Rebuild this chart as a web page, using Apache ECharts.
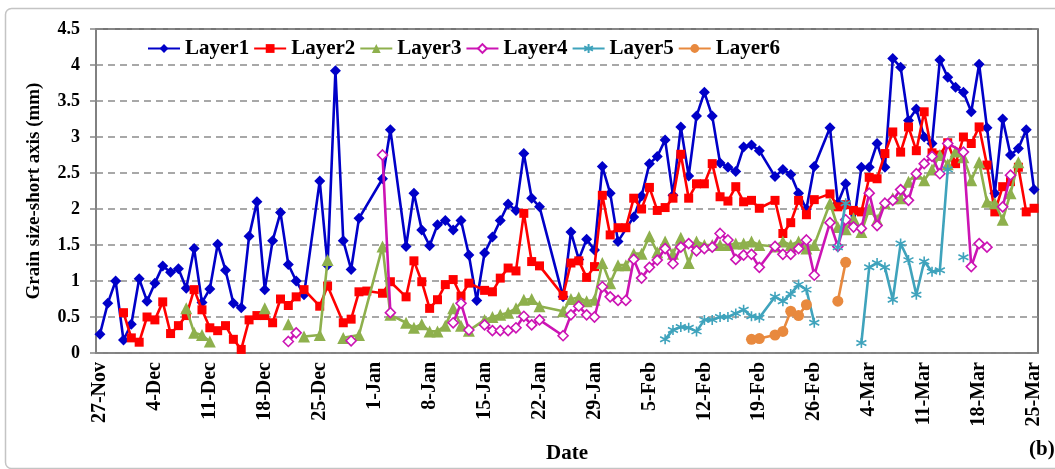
<!DOCTYPE html>
<html>
<head>
<meta charset="utf-8">
<script src="https://cdn.jsdelivr.net/npm/echarts@6/dist/echarts.min.js"></script>
<style>
  html, body { margin: 0; padding: 0; background: #fff; }
  #chart { width: 1055px; height: 469px; }
</style>
</head>
<body>
<div id="chart"></div>
<script>
// Daily grain-size record (short axis, mm) per snow layer, 27-Nov to 25-Mar (winter 2015/16).
// null = no reading that day (line bridges it); GAP = no reading, line broken.
const GAP = '-';
const START_DAY = { year: 2015, month: 10, day: 27 };   // 27-Nov
const DAY_COUNT = 120;                                  // through 25-Mar
const MONTHS = ['Jan','Feb','Mar','Apr','May','Jun','Jul','Aug','Sep','Oct','Nov','Dec'];
const TICK_STEP = 7;                                    // one date label per week

const layerNames = ['Layer1', 'Layer2', 'Layer3', 'Layer4', 'Layer5', 'Layer6'];

const layer1 = [
  0.26, 0.69, 1.00, 0.18, 0.40, 1.03, 0.72, 0.97, 1.21, 1.12,
  1.17, 0.90, 1.45, 0.70, 0.89, 1.51, 1.15, 0.69, 0.63, 1.62,
  2.10, 0.88, 1.56, 1.95, 1.23, 1.00, 0.81, null, 2.39, 1.22,
  3.92, 1.56, 1.16, 1.87, null, null, 2.42, 3.10, null, 1.48,
  2.22, 1.71, 1.49, 1.78, 1.84, 1.71, 1.84, 1.36, 0.73, 1.39,
  1.61, 1.84, 2.07, 1.98, 2.77, 2.15, 2.03, null, null, 0.78,
  1.68, 1.30, 1.58, 1.43, 2.59, 2.22, 1.55, null, 1.89, 2.18,
  2.63, 2.73, 2.96, 2.19, 3.14, 2.46, 3.29, 3.62, 3.29, 2.64,
  2.58, 2.52, 2.86, 2.89, 2.81, null, 2.45, 2.55, 2.48, 2.22,
  2.00, 2.59, null, 3.13, 2.08, 2.35, 1.78, 2.58, 2.58, 2.91,
  2.58, 4.09, 3.97, 3.23, 3.39, 3.00, 2.91, 4.07, 3.83, 3.69,
  3.62, 3.35, 4.01, 3.13, 2.22, 3.25, 2.75, 2.84, 3.10, 2.27
];

const layer2 = [
  null, null, null, 0.56, 0.21, 0.15, 0.50, 0.46, 0.71, 0.27,
  0.38, 0.52, 0.88, 0.60, 0.35, 0.31, 0.38, 0.19, 0.05, 0.46,
  0.52, 0.52, 0.42, 0.75, 0.66, 0.78, 0.88, null, 0.65, 0.93,
  null, 0.42, 0.47, 0.85, 0.86, null, 0.83, 0.99, null, 0.78,
  1.28, 0.99, 0.62, 0.74, 0.95, 1.02, 0.79, 0.97, null, 0.87,
  0.85, 1.04, 1.18, 1.14, 1.94, 1.27, 1.21, null, null, 0.80,
  1.25, 1.28, 1.05, 1.20, 2.19, 1.64, 1.74, 1.74, 2.15, 2.00,
  2.30, 1.98, 2.02, 2.15, 2.76, 2.15, 2.35, 2.35, 2.63, 2.17,
  2.11, 2.31, 2.10, 2.12, 2.01, null, 2.12, 1.66, 1.81, 2.12,
  1.92, 2.13, null, 2.21, 2.03, 2.06, 1.98, 1.96, 2.44, 2.42,
  2.77, 3.07, 2.79, 3.14, 2.81, 3.35, 2.78, 2.75, 2.92, 2.63,
  3.00, 2.91, 3.14, 2.61, 1.96, 2.31, 2.38, 2.58, 1.96, 2.01
];

const layer3 = [
  null, null, null, null, null, null, null, null, null, null,
  null, 0.62, 0.28, 0.25, 0.16, GAP,  null, null, null, null,
  GAP,  0.62, GAP,  null, 0.40, GAP,  0.23, null, 0.25, 1.29,
  GAP,  0.21, null, 0.25, null, null, 1.48, 0.53, null, 0.42,
  0.35, 0.40, 0.30, 0.30, 0.38, 0.62, 0.38, 0.31, null, 0.46,
  0.50, 0.53, 0.56, 0.62, 0.74, 0.75, 0.65, null, null, 0.58,
  0.75, 0.77, 0.72, 0.74, 1.25, 0.97, 1.22, 1.22, 1.38, 1.38,
  1.62, 1.40, 1.55, 1.38, 1.60, 1.25, 1.55, 1.50, 1.50, 1.50,
  1.50, 1.52, 1.52, 1.55, 1.50, null, 1.48, 1.55, 1.50, 1.55,
  1.45, 1.50, null, 2.08, 1.75, 1.72, 1.87, 1.68, 2.00, 1.85,
  2.08, 2.15, 2.15, 2.38, 2.49, 2.40, 2.55, 2.75, 2.62, 2.80,
  2.72, 2.40, 2.65, 2.10, 2.08, 1.85, 2.22, 2.65, null, null
];

const layer4 = [
  null, null, null, null, null, null, null, null, null, null,
  null, null, null, null, null, null, null, null, null, null,
  null, null, null, null, 0.16, 0.28, GAP,  null, null, null,
  null, GAP,  0.17, GAP,  null, GAP,  2.75, 0.56, null, GAP,
  null, null, null, null, GAP,  0.42, 0.69, 0.32, GAP,  0.39,
  0.31, 0.31, 0.31, 0.35, 0.51, 0.39, 0.46, null, null, 0.24,
  0.53, 0.65, 0.53, 0.50, 0.92, 0.78, 0.73, 0.73, 1.30, 1.04,
  1.19, 1.29, 1.45, 1.24, 1.47, 1.52, 1.42, 1.45, 1.47, 1.66,
  1.57, 1.30, 1.36, 1.37, 1.19, null, 1.48, 1.37, 1.37, 1.45,
  1.57, 1.08, null, 1.81, 1.48, 1.85, 1.75, 1.73, 2.22, 1.77,
  2.08, 2.12, 2.27, 2.12, 2.49, 2.63, 2.73, 2.49, 2.91, null,
  2.79, 1.20, 1.52, 1.47, GAP,  2.03, 2.47, GAP,  null, null
];

const layer5 = [
  null, null, null, null, null, null, null, null, null, null,
  null, null, null, null, null, null, null, null, null, null,
  null, null, null, null, null, null, null, null, null, null,
  null, null, null, null, null, null, null, null, null, null,
  null, null, null, null, null, null, null, null, null, null,
  null, null, null, null, null, null, null, null, null, null,
  null, null, null, null, null, null, null, null, null, null,
  null, null, 0.19, 0.32, 0.36, 0.35, 0.30, 0.46, 0.46, 0.50,
  0.50, 0.55, 0.60, 0.51, 0.49, null, 0.78, 0.72, 0.82, 0.95,
  0.88, 0.42, null, GAP,  1.47, 2.08, GAP,  0.14, 1.19, 1.25,
  1.19, 0.74, 1.52, 1.29, 0.81, 1.27, 1.13, 1.15, 2.55, GAP,
  1.33, GAP,  null, null, null, null, null, null, null, null
];

const layer6 = [
  null, null, null, null, null, null, null, null, null, null,
  null, null, null, null, null, null, null, null, null, null,
  null, null, null, null, null, null, null, null, null, null,
  null, null, null, null, null, null, null, null, null, null,
  null, null, null, null, null, null, null, null, null, null,
  null, null, null, null, null, null, null, null, null, null,
  null, null, null, null, null, null, null, null, null, null,
  null, null, null, null, null, null, null, null, null, null,
  null, null, null, 0.19, 0.20, null, 0.25, 0.30, 0.58, 0.52,
  0.67, GAP,  null, GAP,  0.72, 1.26, GAP,  null, null, null,
  null, null, null, null, null, null, null, null, null, null,
  null, null, null, null, null, null, null, null, null, null
];

const yTicks = { min: 0, max: 4.5, step: 0.5 };

// Category labels, one per day ("27-Nov", "28-Nov", ...)
const dayLabels = [];
for (let i = 0; i < DAY_COUNT; i++) {
  const d = new Date(Date.UTC(START_DAY.year, START_DAY.month, START_DAY.day + i));
  dayLabels.push(d.getUTCDate() + '-' + MONTHS[d.getUTCMonth()]);
}

// [dayIndex, value] pairs; days without a reading are left out so the line bridges them
function toPairs(vals) {
  const out = [];
  vals.forEach((v, i) => { if (v !== null) out.push([i, v]); });
  return out;
}

const SERIF = '"Liberation Serif", "DejaVu Serif", serif';
const ASTERISK = 'path://M5,0 L5,10 M0.7,2.5 L9.3,7.5 M0.7,7.5 L9.3,2.5';

const styles = [
  { color: '#0000C8', symbol: 'diamond', size: 11, fill: '#0000C8' },
  { color: '#FF0000', symbol: 'rect', size: 9, fill: '#FF0000' },
  { color: '#8EB04D', symbol: 'triangle', size: 12, fill: '#8EB04D' },
  { color: '#CC14B4', symbol: 'diamond', size: 10, fill: '#FFFFFF', border: 1.6 },
  { color: '#3FA3BC', symbol: ASTERISK, size: 10, fill: 'none', border: 1.6 },
  { color: '#E8893E', symbol: 'circle', size: 11, fill: '#E8893E' }
];

const layerValues = [layer1, layer2, layer3, layer4, layer5, layer6];

const series = layerValues.map((vals, k) => {
  const s = styles[k];
  return {
    name: layerNames[k],
    type: 'line',
    data: toPairs(vals),
    connectNulls: false,
    symbol: s.symbol,
    symbolSize: s.size,
    showAllSymbol: true,
    color: s.color,
    lineStyle: { color: s.color, width: 2.6 },
    itemStyle: {
      color: s.fill,
      borderColor: s.color,
      borderWidth: s.border || 0
    },
    emphasis: { disabled: true },
    z: 2 + k
  };
});

const chart = echarts.init(document.getElementById('chart'), null, { renderer: 'canvas' });
chart.setOption({
  animation: false,
  backgroundColor: '#ffffff',
  grid: { left: 96, right: 17, top: 29, bottom: 116, show: true, borderColor: '#4a4a4a', borderWidth: 1.5, backgroundColor: 'transparent' },
  legend: {
    data: layerNames,
    left: 142, top: 33,
    itemWidth: 32, itemHeight: 11, itemGap: 4,
    textStyle: { fontFamily: SERIF, fontWeight: 'bold', fontSize: 21, color: '#000' }
  },
  xAxis: {
    type: 'category',
    data: dayLabels,
    boundaryGap: true,
    name: 'Date',
    nameLocation: 'middle',
    nameGap: 90,
    nameTextStyle: { fontFamily: SERIF, fontWeight: 'bold', fontSize: 21, color: '#000' },
    axisLine: { lineStyle: { color: '#868686', width: 1.5 } },
    axisTick: { interval: TICK_STEP - 1, length: 6, lineStyle: { color: '#868686', width: 1.5 } },
    axisLabel: { interval: TICK_STEP - 1, rotate: 90, margin: 9, fontFamily: SERIF, fontWeight: 'bold', fontSize: 20, color: '#000' },
    splitLine: { show: false }
  },
  yAxis: {
    type: 'value',
    min: yTicks.min, max: yTicks.max, interval: yTicks.step,
    name: 'Grain size-short axis (mm)',
    nameLocation: 'middle',
    nameRotate: 90,
    nameGap: 52,
    nameTextStyle: { fontFamily: SERIF, fontWeight: 'bold', fontSize: 19, color: '#000' },
    axisLine: { show: true, lineStyle: { color: '#868686', width: 1.5 } },
    axisTick: { show: true, length: 6, lineStyle: { color: '#868686', width: 1.5 } },
    axisLabel: { margin: 16, fontFamily: SERIF, fontWeight: 'bold', fontSize: 18, color: '#000' },
    splitLine: { lineStyle: { color: '#8c8c8c', width: 1.5, type: [7, 5] } }
  },
  graphic: [
    { type: 'rect', left: 3, top: 6, shape: { width: 1060, height: 460, r: 6 },
      style: { fill: 'none', stroke: '#c4c4c4', lineWidth: 1.5 }, silent: true, z: -1 },
    { type: 'text', left: 1029, top: 439,
      style: { text: '(b)', font: 'bold 21px ' + SERIF, fill: '#000' } }
  ],
  series: series
});
</script>
</body>
</html>
